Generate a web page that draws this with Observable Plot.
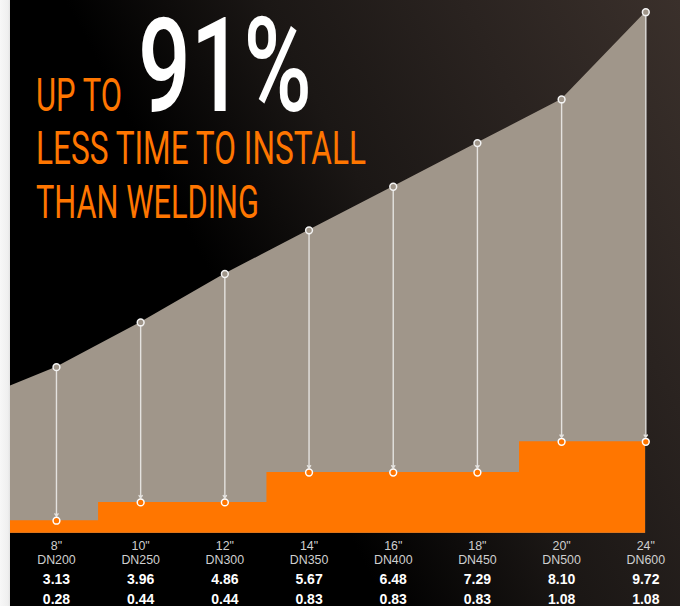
<!DOCTYPE html>
<html>
<head>
<meta charset="utf-8">
<script src="https://cdn.jsdelivr.net/npm/d3@7"></script>
<script src="https://cdn.jsdelivr.net/npm/@observablehq/plot@0.6"></script>
<style>
  html, body { margin: 0; padding: 0; background: #fff; }
  #wrap { position: relative; width: 680px; height: 606px; overflow: hidden; }
  #strip { position: absolute; left: 0; top: 0; width: 10px; height: 606px;
           background: linear-gradient(90deg, #f7f7f7 0%, #efefef 80%, #e2e2e2 100%); }
  #bg { position: absolute; left: 10px; top: 0; width: 670px; height: 606px;
        background: linear-gradient(62deg, #000 38%, #1b1715 58%, #2a2320 78%, #3a302b 100%); }
  #chart { position: absolute; left: 0; top: 0; }
  #title { position: absolute; left: 0; top: 0; pointer-events: none; }
</style>
</head>
<body>
<div id="wrap">
  <div id="strip"></div>
  <div id="bg"></div>
  <div id="chart"></div>
  <svg id="title" width="680" height="240"></svg>
</div>
<script>
// ---- data ----
const pipeSizes = ['8"', '10"', '12"', '14"', '16"', '18"', '20"', '24"'];
const dnSizes = ["DN200", "DN250", "DN300", "DN350", "DN400", "DN450", "DN500", "DN600"];
const weldingHours = [3.13, 3.96, 4.86, 5.67, 6.48, 7.29, 8.10, 9.72];
const groovedHours = [0.28, 0.44, 0.44, 0.83, 0.83, 0.83, 1.08, 1.08];
// heights of the orange steps as drawn in the picture (in the same y units)
const groovedBarHeight = [0.28, 0.62, 0.62, 1.175, 1.175, 1.175, 1.745, 1.745];
// the shaded areas start at the left edge of the panel
const leadingEdge = { x: -0.546, top: 2.78, bottom: 0.28 };

// headline text
const headline = [
  { text: "UP TO", x: 36, y: 110.7, width: 86, size: 47, weight: 400, color: "#ff7600" },
  { text: "91%", x: 138, y: 110.7, width: 174, size: 132, weight: 500, color: "#ffffff" },
  { text: "LESS TIME TO INSTALL", x: 36, y: 164, width: 330, size: 47, weight: 400, color: "#ff7600" },
  { text: "THAN WELDING", x: 36, y: 217.7, width: 223, size: 47, weight: 400, color: "#ff7600" }
];

const idx = d3.range(pipeSizes.length);
const areaRows = [leadingEdge].concat(idx.map(i => ({ x: i, top: weldingHours[i], bottom: groovedBarHeight[i] })));

const GRAY = "#a0968a";
const ORANGE = "#ff7600";
const labelFont = "Liberation Sans, Arial, sans-serif";

const plot = Plot.plot({
  width: 680,
  height: 606,
  marginLeft: 10,
  marginRight: 34.7,
  marginTop: 11.7,
  marginBottom: 73.3,
  style: { background: "transparent", overflow: "visible" },
  x: { type: "linear", domain: [leadingEdge.x, idx.length - 1], axis: null },
  y: { domain: [0.048, 9.72], axis: null },
  marks: [
    Plot.areaY(areaRows, { x: "x", y: "top", fill: GRAY, clip: true }),
    Plot.areaY(areaRows, { x: "x", y: "bottom", fill: ORANGE, curve: "step", clip: true }),
    Plot.arrow(idx, {
      x: i => i, y1: i => weldingHours[i], y2: i => groovedBarHeight[i],
      stroke: "#e4e2df", strokeWidth: 1.4, headLength: 3, headAngle: 70,
      insetStart: 3.5, insetEnd: 4.5
    }),
    Plot.dot(idx, { x: i => i, y: i => weldingHours[i], r: 3.4, fill: GRAY, stroke: "#f4f4f4", strokeWidth: 1.5 }),
    Plot.dot(idx, { x: i => i, y: i => groovedBarHeight[i], r: 3.4, fill: ORANGE, stroke: "#ffffff", strokeWidth: 1.5 }),
    Plot.text(idx, { x: i => i, text: i => pipeSizes[i] + "\n" + dnSizes[i], frameAnchor: "bottom", lineAnchor: "middle",
      lineHeight: 1.13, dy: 19.5, fill: "#cfcfcf", fontSize: 12.4, fontFamily: labelFont }),
    Plot.text(idx, { x: i => i, text: i => weldingHours[i].toFixed(2), frameAnchor: "bottom", lineAnchor: "middle",
      dy: 46, fill: "#ffffff", fontSize: 14, fontWeight: "bold", fontFamily: labelFont }),
    Plot.text(idx, { x: i => i, text: i => groovedHours[i].toFixed(2), frameAnchor: "bottom", lineAnchor: "middle",
      dy: 66.8, fill: "#ffffff", fontSize: 14, fontWeight: "bold", fontFamily: labelFont })
  ]
});
document.getElementById("chart").appendChild(plot);

// headline: condensed by scaling each line horizontally to its measured width
const svg = d3.select("#title");
for (const h of headline) {
  const t = svg.append("text")
    .attr("font-family", "Roboto")
    .attr("font-weight", h.weight)
    .attr("font-size", h.size)
    .attr("fill", h.color)
    .text(h.text);
  const natural = t.node().getComputedTextLength();
  t.attr("transform", `translate(${h.x},${h.y}) scale(${h.width / natural},1)`);
}
</script>
</body>
</html>
